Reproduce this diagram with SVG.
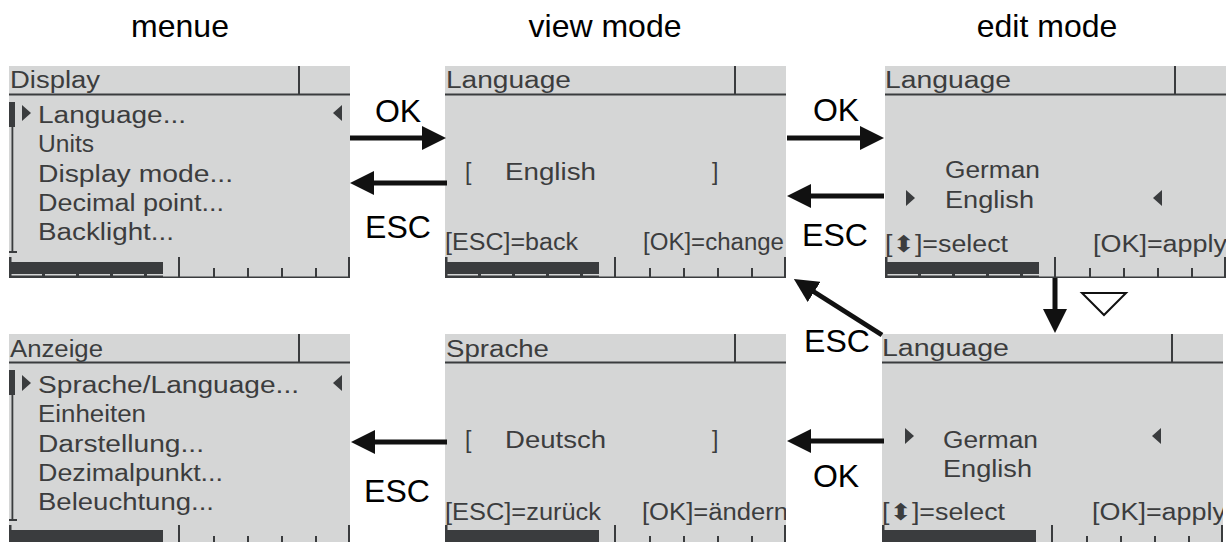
<svg xmlns="http://www.w3.org/2000/svg" xmlns:xlink="http://www.w3.org/1999/xlink" width="1227" height="542" viewBox="0 0 1227 542">
<style>
.title{font-family:"Liberation Sans",Arial,sans-serif;font-size:32px;fill:#000;text-anchor:middle}
.lbl{font-family:"Liberation Sans",Arial,sans-serif;font-size:32px;fill:#000;text-anchor:middle}
.lcd{font-family:"Liberation Sans",Arial,sans-serif;font-size:23px;fill:#3c3d3e}
.bg{fill:#d5d6d6}
.dk{fill:#3a3c3e}
.lt{fill:#d5d6d6}
.con{stroke:#111;stroke-width:5;fill:none;marker-end:url(#ah)}
.ptr{fill:#3a3c3e}
</style>
<defs>
<marker id="ah" viewBox="0 0 24 24" refX="12" refY="12" markerWidth="24" markerHeight="24" markerUnits="userSpaceOnUse" orient="auto">
<path d="M0,0 L24,12 L0,24 Z" fill="#111"/>
</marker>
<clipPath id="scr"><rect x="0" y="0" width="341" height="212"/></clipPath>
<g id="frame">
<rect class="bg" x="0" y="0" width="341" height="212"/>
<rect class="dk" x="0" y="27.5" width="341" height="2"/>
<rect class="dk" x="289" y="0" width="2" height="28"/>
<rect class="dk" x="0" y="196" width="154" height="16"/>
<rect class="lt" x="2" y="208" width="31" height="1.5"/>
<rect class="lt" x="36" y="208" width="31" height="1.5"/>
<rect class="lt" x="70" y="208" width="31" height="1.5"/>
<rect class="lt" x="104" y="208" width="31" height="1.5"/>
<rect class="lt" x="138" y="208" width="16" height="1.5"/>
<rect class="dk" x="0" y="191" width="2.5" height="21"/>
<rect class="dk" x="154" y="210.5" width="187" height="1.5"/>
<rect class="dk" x="169" y="191" width="2" height="21"/>
<rect class="dk" x="339" y="191" width="2" height="21"/>
<rect class="dk" x="204" y="202" width="2" height="10"/>
<rect class="dk" x="238" y="202" width="2" height="10"/>
<rect class="dk" x="272" y="202" width="2" height="10"/>
<rect class="dk" x="306" y="202" width="2" height="10"/>
</g>
<g id="scroll">
<rect class="dk" x="2.5" y="36" width="1.8" height="150"/>
<rect class="dk" x="0" y="36" width="6" height="25"/>
<rect class="dk" x="0" y="185" width="8" height="2"/>
</g>
<path id="pr" d="M0,0 L9,8 L0,16 Z"/>
<path id="pl" d="M9,0 L0,8 L9,16 Z"/>
</defs>
<rect x="0" y="0" width="1227" height="542" fill="#fff"/>

<g id="titles">
<text class="title" x="180" y="37">menue</text>
<text class="title" x="605" y="37">view mode</text>
<text class="title" x="1047" y="37">edit mode</text>
</g>

<g id="menu-en" transform="translate(9,66)">
<use xlink:href="#frame"/>
<use xlink:href="#scroll"/>
<g clip-path="url(#scr)">
<use xlink:href="#pr" class="ptr" x="13" y="39"/>
<use xlink:href="#pl" class="ptr" x="324" y="39"/>
<text class="lcd" x="1" y="22" textLength="90" lengthAdjust="spacingAndGlyphs">Display</text>
<text class="lcd" x="29" y="57" textLength="148" lengthAdjust="spacingAndGlyphs">Language...</text>
<text class="lcd" x="29" y="86" textLength="56" lengthAdjust="spacingAndGlyphs">Units</text>
<text class="lcd" x="29" y="116" textLength="195" lengthAdjust="spacingAndGlyphs">Display mode...</text>
<text class="lcd" x="29" y="145" textLength="186" lengthAdjust="spacingAndGlyphs">Decimal point...</text>
<text class="lcd" x="29" y="174" textLength="136" lengthAdjust="spacingAndGlyphs">Backlight...</text>
</g>
</g>

<g id="view-en" transform="translate(445,66)">
<use xlink:href="#frame"/>
<g clip-path="url(#scr)">
<text class="lcd" x="1" y="22" textLength="125" lengthAdjust="spacingAndGlyphs">Language</text>
<text class="lcd" x="20" y="114">[</text>
<text class="lcd" x="60" y="114" textLength="91" lengthAdjust="spacingAndGlyphs">English</text>
<text class="lcd" x="267" y="114">]</text>
<text class="lcd" x="0" y="184" textLength="133" lengthAdjust="spacingAndGlyphs">[ESC]=back</text>
<text class="lcd" x="198" y="184" textLength="141" lengthAdjust="spacingAndGlyphs">[OK]=change</text>
</g>
</g>

<g id="edit-en" transform="translate(885,66)">
<use xlink:href="#frame"/>
<g clip-path="url(#scr)">
<text class="lcd" x="0" y="22" textLength="126" lengthAdjust="spacingAndGlyphs">Language</text>
<text class="lcd" x="60" y="112" textLength="95" lengthAdjust="spacingAndGlyphs">German</text>
<use xlink:href="#pr" class="ptr" x="21" y="124"/>
<text class="lcd" x="60" y="142" textLength="89" lengthAdjust="spacingAndGlyphs">English</text>
<use xlink:href="#pl" class="ptr" x="268" y="124"/>
<text class="lcd" x="0" y="186" textLength="123" lengthAdjust="spacingAndGlyphs">[<tspan font-family="DejaVu Sans,sans-serif">⬍</tspan>]=select</text>
<text class="lcd" x="208" y="186" textLength="134" lengthAdjust="spacingAndGlyphs">[OK]=apply</text>
</g>
</g>

<g id="menu-de" transform="translate(9,334)">
<use xlink:href="#frame"/>
<use xlink:href="#scroll"/>
<g clip-path="url(#scr)">
<use xlink:href="#pr" class="ptr" x="13" y="41"/>
<use xlink:href="#pl" class="ptr" x="324" y="41"/>
<text class="lcd" x="1" y="23" textLength="93" lengthAdjust="spacingAndGlyphs">Anzeige</text>
<text class="lcd" x="29" y="59" textLength="261" lengthAdjust="spacingAndGlyphs">Sprache/Language...</text>
<text class="lcd" x="29" y="88" textLength="108" lengthAdjust="spacingAndGlyphs">Einheiten</text>
<text class="lcd" x="29" y="118" textLength="166" lengthAdjust="spacingAndGlyphs">Darstellung...</text>
<text class="lcd" x="29" y="147" textLength="185" lengthAdjust="spacingAndGlyphs">Dezimalpunkt...</text>
<text class="lcd" x="29" y="176" textLength="176" lengthAdjust="spacingAndGlyphs">Beleuchtung...</text>
</g>
</g>

<g id="view-de" transform="translate(445,334)">
<use xlink:href="#frame"/>
<g clip-path="url(#scr)">
<text class="lcd" x="1" y="23" textLength="103" lengthAdjust="spacingAndGlyphs">Sprache</text>
<text class="lcd" x="20" y="114">[</text>
<text class="lcd" x="60" y="114" textLength="101" lengthAdjust="spacingAndGlyphs">Deutsch</text>
<text class="lcd" x="267" y="114">]</text>
<text class="lcd" x="0" y="186" textLength="156" lengthAdjust="spacingAndGlyphs">[ESC]=zurück</text>
<text class="lcd" x="197" y="186" textLength="146" lengthAdjust="spacingAndGlyphs">[OK]=ändern</text>
</g>
</g>

<g id="edit-de" transform="translate(882,334)">
<use xlink:href="#frame"/>
<g clip-path="url(#scr)">
<text class="lcd" x="0" y="22" textLength="127" lengthAdjust="spacingAndGlyphs">Language</text>
<use xlink:href="#pr" class="ptr" x="23" y="94"/>
<text class="lcd" x="61" y="114" textLength="95" lengthAdjust="spacingAndGlyphs">German</text>
<use xlink:href="#pl" class="ptr" x="270" y="94"/>
<text class="lcd" x="61" y="143" textLength="89" lengthAdjust="spacingAndGlyphs">English</text>
<text class="lcd" x="0" y="186" textLength="123" lengthAdjust="spacingAndGlyphs">[<tspan font-family="DejaVu Sans,sans-serif">⬍</tspan>]=select</text>
<text class="lcd" x="210" y="186" textLength="134" lengthAdjust="spacingAndGlyphs">[OK]=apply</text>
</g>
</g>

<g id="connectors">
<line class="con" x1="350" y1="138" x2="434" y2="138"/>
<text class="lbl" x="398" y="122">OK</text>
<line class="con" x1="447" y1="183" x2="362" y2="183"/>
<text class="lbl" x="398" y="238">ESC</text>
<line class="con" x1="787" y1="138" x2="872" y2="138"/>
<text class="lbl" x="836" y="121">OK</text>
<line class="con" x1="884" y1="196" x2="799" y2="196"/>
<text class="lbl" x="835" y="246">ESC</text>
<line class="con" x1="1055" y1="278" x2="1055" y2="321"/>
<path d="M1082,293 L1126,293 L1104,315 Z" fill="none" stroke="#111" stroke-width="2"/>
<line class="con" x1="882" y1="335" x2="804" y2="285.5"/>
<text class="lbl" x="837" y="352">ESC</text>
<line class="con" x1="884" y1="441" x2="799" y2="441"/>
<text class="lbl" x="836" y="487">OK</text>
<line class="con" x1="447" y1="442" x2="363" y2="442"/>
<text class="lbl" x="397" y="502">ESC</text>
</g>
</svg>
